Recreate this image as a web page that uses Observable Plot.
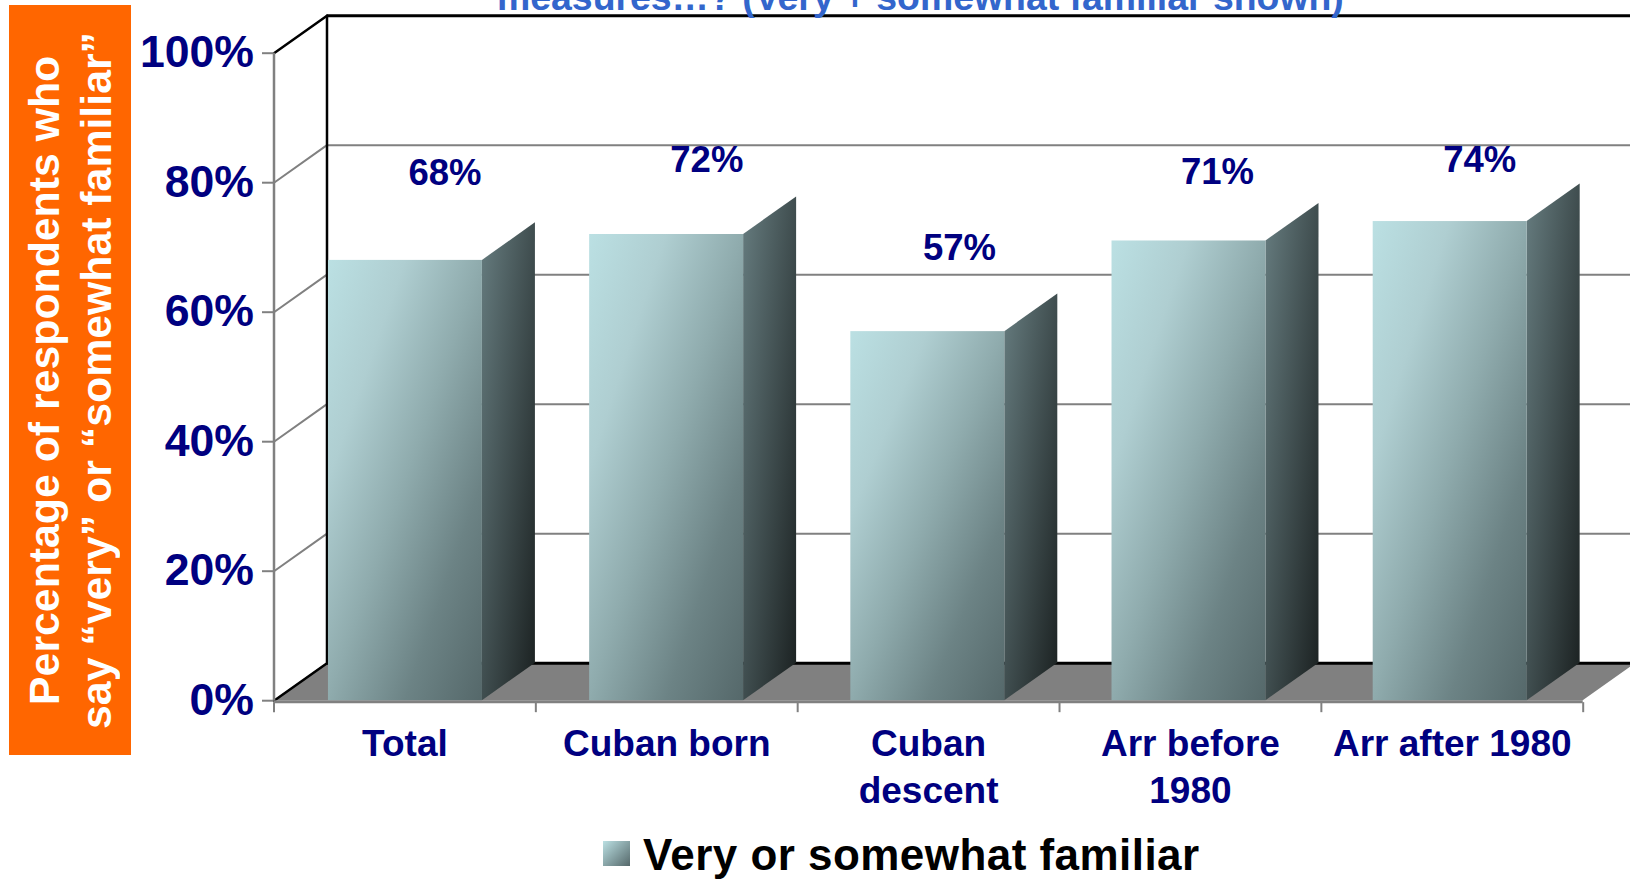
<!DOCTYPE html>
<html>
<head>
<meta charset="utf-8">
<script src="https://cdn.jsdelivr.net/npm/d3@7"></script>
<script src="https://cdn.jsdelivr.net/npm/@observablehq/plot@0.6"></script>
<style>
  html, body { margin: 0; padding: 0; background: #fff; width: 1630px; height: 880px; overflow: hidden; position: relative; font-family: "Liberation Sans", Arial, sans-serif; }
  #chart { position: absolute; left: 0; top: 0; }
  #title { position: absolute; left: 497px; top: -21.5px; font: bold 37.4px/37px "Liberation Sans", Arial, sans-serif; color: #3366CC; white-space: nowrap; z-index: 2; }
  #ylabel { position: absolute; left: 9px; top: 5px; width: 122px; height: 750px; background: #FF6600; color: #fff; z-index: 2;
    display: flex; align-items: center; justify-content: center; }
  #ylabel div { writing-mode: vertical-rl; transform: rotate(180deg); text-align: center; font: bold 42.8px/52px "Liberation Sans", Arial, sans-serif; white-space: nowrap; }
  #legend { position: absolute; left: 603px; top: 829px; height: 52px; display: flex; align-items: center; gap: 13px; z-index: 2; font: bold 44px/52px "Liberation Sans", Arial, sans-serif; color: #000; letter-spacing: 0.45px; white-space: nowrap; }
  #legend i { display: block; width: 27px; height: 25px; background: linear-gradient(135deg, #BBE0E3, #55686A); position: relative; top: -2px; }
</style>
</head>
<body>
<div id="title"></div>
<div id="ylabel"><div id="ylabelText"></div></div>
<div id="chart"></div>
<div id="legend"><i></i><span id="legendText"></span></div>
<script>
const categories = ["Total", "Cuban born", "Cuban\ndescent", "Arr before\n1980", "Arr after 1980"];
const familiar = [68, 72, 57, 71, 74];
const yTicks = [0, 20, 40, 60, 80, 100];
const xTicks = [0, 1, 2, 3, 4, 5];
const titleText = "measures…? (Very + somewhat familiar shown)";
const yLabelLines = ["Percentage of respondents who", "say “very” or “somewhat familiar”"];
const legendLabel = "Very or somewhat familiar";

// Hand placement of the value labels, in scale units (the source slide nudged them).
const labelShiftX = [0.153, 0.153, 0.118, 0.103, 0.105];
const labelLift = [13.5, 11.4, 12.9, 10.6, 9.4];

// Oblique 3-D depth, in scale units.
const depthX = 0.2024;
const depthY = 5.8;
const barStart = 0.208;
const barWidth = 0.588;
const barStep = 0.9975;

document.getElementById("title").textContent = titleText;
document.getElementById("ylabelText").innerHTML = yLabelLines.join("<br>");
document.getElementById("legendText").textContent = legendLabel;

const bars = familiar.map((v, i) => ({v, i, x1: i * barStep + barStart, x2: i * barStep + barStart + barWidth}));
const sides = bars.flatMap(b => [
  {k: b.i, x: b.x2, lo: 0, hi: b.v},
  {k: b.i, x: b.x2 + depthX, lo: depthY, hi: b.v + depthY}
]);
const floor = [
  {x: 0, lo: 0, hi: 0},
  {x: depthX, lo: 0, hi: depthY},
  {x: 5, lo: 0, hi: depthY},
  {x: 5 + depthX, lo: depthY, hi: depthY}
];
const inner = yTicks.filter(t => t > 0 && t < 100);
const wallDiagonals = inner.flatMap(t => [{t, x: 0, y: t}, {t, x: depthX, y: t + depthY}]);
const blackDiagonals = [0, 100].flatMap(t => [{t, x: 0, y: t}, {t, x: depthX, y: t + depthY}]);

const navy = "#000080", grey = "#808080";

const svg = Plot.plot({
  width: 1630,
  height: 820,
  margin: 0,
  style: {background: "transparent", overflow: "visible"},
  x: {type: "linear", domain: [0, 5], range: [273.5, 1582.7], axis: null},
  y: {type: "linear", domain: [0, 100], range: [700.2, 52.7], axis: null},
  marks: [
    // floor
    Plot.area(floor, {x1: "x", y1: "lo", y2: "hi", fill: grey}),
    // back wall gridlines
    Plot.ruleY(inner, {y: d => d + depthY, x1: depthX, x2: 5 + depthX, stroke: grey, strokeWidth: 2}),
    Plot.line(wallDiagonals, {x: "x", y: "y", z: "t", stroke: grey, strokeWidth: 2}),
    // back wall outline
    Plot.ruleY([100 + depthY], {x1: depthX, x2: 5 + depthX, stroke: "#000", strokeWidth: 3}),
    Plot.ruleY([depthY], {x1: depthX, x2: 5 + depthX, stroke: "#000", strokeWidth: 3}),
    Plot.ruleX([depthX], {y1: depthY, y2: 100 + depthY, stroke: "#000", strokeWidth: 2.5}),
    Plot.line(blackDiagonals, {x: "x", y: "y", z: "t", stroke: "#000", strokeWidth: 2.5}),
    // front axis lines and ticks
    Plot.ruleX([0], {y1: 0, y2: 100, stroke: grey, strokeWidth: 2.5}),
    Plot.ruleY([0], {x1: 0, x2: 5, dy: 1, stroke: grey, strokeWidth: 3}),
    Plot.ruleY(yTicks, {x1: -0.044, x2: 0, stroke: grey, strokeWidth: 2}),
    Plot.ruleX(xTicks, {y1: -0.3, y2: -1.85, stroke: grey, strokeWidth: 2}),
    // bars
    Plot.area(sides, {x1: "x", y1: "lo", y2: "hi", z: "k", fill: "url(#sideGrad)"}),
    Plot.rectY(bars, {x1: "x1", x2: "x2", y1: 0, y2: "v", fill: "url(#frontGrad)"}),
    // value labels
    Plot.text(bars, {
      x: d => d.i + 0.5 + labelShiftX[d.i],
      y: d => d.v + labelLift[d.i],
      text: d => d.v + "%",
      fontSize: 36.5, fontWeight: "bold", fontFamily: "Liberation Sans", fill: navy
    }),
    // y tick labels
    Plot.text(yTicks, {
      x: 0, y: d => d, text: d => d + "%", dx: -20, textAnchor: "end",
      fontSize: 44.6, fontWeight: "bold", fontFamily: "Liberation Sans", fill: navy
    }),
    // category labels
    Plot.text(categories, {
      x: (d, i) => i + 0.5, y: 0, text: d => d, dy: 22, lineAnchor: "top", lineHeight: 1.27,
      fontSize: 37, fontWeight: "bold", fontFamily: "Liberation Sans", fill: navy
    })
  ]
});

const defs = d3.create("svg:defs");
const gradient = (id, stops) => {
  const g = defs.append("linearGradient").attr("id", id)
    .attr("x1", 0).attr("y1", 0).attr("x2", 1).attr("y2", 1);
  stops.forEach(([o, c]) => g.append("stop").attr("offset", o).attr("stop-color", c));
};
gradient("frontGrad", [[0, "#BBE0E3"], [0.25, "#AFCED1"], [0.5, "#8FABAD"], [0.75, "#6C8385"], [1, "#55686A"]]);
gradient("sideGrad", [[0, "#667C7F"], [1, "#1A2020"]]);
svg.insertBefore(defs.node(), svg.firstChild);
document.getElementById("chart").appendChild(svg);
</script>
</body>
</html>
